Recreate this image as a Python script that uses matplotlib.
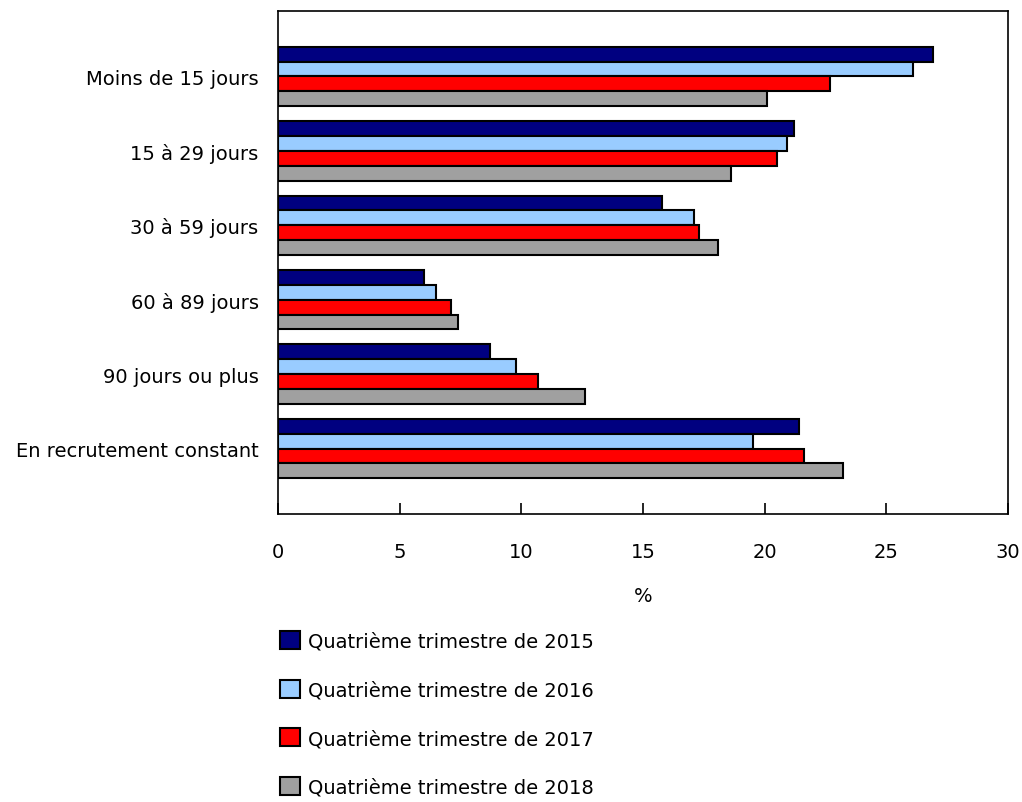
import matplotlib
matplotlib.use("Agg")
import matplotlib.pyplot as plt
import numpy as np

categories = ["Moins de 15 jours", "15 à 29 jours", "30 à 59 jours",
              "60 à 89 jours", "90 jours ou plus", "En recrutement constant"]
series_labels = ["Quatrième trimestre de 2015", "Quatrième trimestre de 2016",
                 "Quatrième trimestre de 2017", "Quatrième trimestre de 2018"]
v2015 = [26.9, 21.2, 15.8, 6.0, 8.7, 21.4]
v2016 = [26.1, 20.9, 17.1, 6.5, 9.8, 19.5]
v2017 = [22.7, 20.5, 17.3, 7.1, 10.7, 21.6]
v2018 = [20.1, 18.6, 18.1, 7.4, 12.6, 23.2]
xticks = [0, 5, 10, 15, 20, 25, 30]

colors = ["#000080", "#99ccff", "#ff0000", "#a0a0a0"]

FS = 14
plt.rcParams['font.family'] = ['DejaVu Sans']
fig = plt.figure(figsize=(10.22, 8.03), dpi=100)
ax = fig.add_axes([278/1022, 1-515/803, (1008-278)/1022, (515-12)/803])

y = np.arange(len(categories))
h = 0.2
for i, (vals, lab, c) in enumerate(zip([v2015, v2016, v2017, v2018], series_labels, colors)):
    ax.barh(y - 0.3 + i * h, vals, height=h, color=c, edgecolor="black",
            linewidth=1.5, label=lab)

ax.set_ylim(5.88, -0.88)
ax.set_xlim(0, 30)
ax.set_xticks(xticks)
ax.set_xticklabels([str(t) for t in xticks], fontsize=FS)
ax.set_yticks(y)
ax.set_yticklabels(categories, fontsize=FS)
ax.tick_params(axis='x', direction='in', length=8, width=1.2, pad=20)
ax.tick_params(axis='y', length=0, pad=14)
for s in ax.spines.values():
    s.set_linewidth(1.2)
ax.set_xlabel("%", fontsize=FS, labelpad=18)

fig.legend(loc='upper left', bbox_to_anchor=(272/1022, 1-624/803), frameon=False,
           fontsize=FS, handlelength=1.05, handleheight=1.05, labelspacing=1.5,
           handletextpad=0.4, borderaxespad=0)

fig.savefig("out.png", dpi=100)
